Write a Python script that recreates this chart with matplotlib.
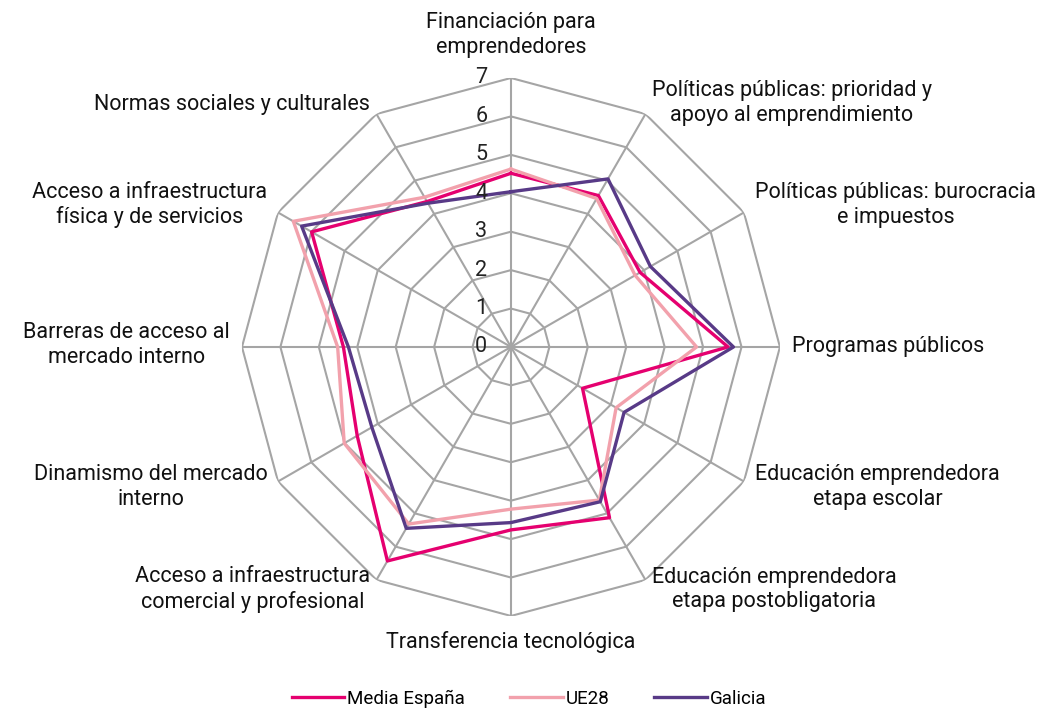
import numpy as np
import matplotlib.pyplot as plt

plt.rcParams['font.family'] = ['Roboto', 'DejaVu Sans']

categorias = [
    'Financiación para\nemprendedores',
    'Políticas públicas: prioridad y\napoyo al emprendimiento',
    'Políticas públicas: burocracia\ne impuestos',
    'Programas públicos',
    'Educación emprendedora\netapa escolar',
    'Educación emprendedora\netapa postobligatoria',
    'Transferencia tecnológica',
    'Acceso a infraestructura\ncomercial y profesional',
    'Dinamismo del mercado\ninterno',
    'Barreras de acceso al\nmercado interno',
    'Acceso a infraestructura\nfísica y de servicios',
    'Normas sociales y culturales',
]
media_espana = [4.52, 4.55, 3.88, 5.65, 2.15, 5.13, 4.76, 6.43, 4.62, 4.36, 5.99, 4.37]
ue28 = [4.63, 4.46, 3.73, 4.83, 3.16, 4.60, 4.22, 5.32, 5.01, 4.51, 6.54, 4.50]
galicia = [4.04, 5.05, 4.19, 5.79, 3.40, 4.65, 4.57, 5.45, 4.18, 4.23, 6.29, 4.32]
ticks = [0, 1, 2, 3, 4, 5, 6, 7]

series = [('Media España', media_espana, '#E5006F'),
          ('UE28', ue28, '#F2A1AC'),
          ('Galicia', galicia, '#583A87')]

n = len(categorias)
ang = np.arange(n) * 2 * np.pi / n
ang_c = np.append(ang, ang[0])

fs = 15.5

fig = plt.figure(figsize=(10.58, 7.16), dpi=100)
ax = fig.add_axes([0.2287, 0.1397, 0.5085, 0.7514], projection='polar')
ax.set_theta_zero_location('N')
ax.set_theta_direction(-1)
ax.set_ylim(0, 7)
ax.grid(False)
ax.set_xticks([])
ax.set_yticks([])
ax.spines['polar'].set_visible(False)

grid_c = '#A5A5A5'
# anillos poligonales
for t in ticks[1:]:
    ax.plot(ang_c, [t] * (n + 1), color=grid_c, lw=1.5, zorder=1)
# radios
for a in ang:
    ax.plot([a, a], [0, 7], color=grid_c, lw=1.5, zorder=1)

for nombre, vals, col in series:
    ax.plot(ang_c, vals + vals[:1], color=col, lw=2.4, label=nombre, zorder=3)

# etiquetas del eje radial
for t in ticks:
    ax.annotate(str(t), (0, t), xytext=(-17, 0), textcoords='offset points',
                ha='right', va='center', fontsize=fs, color='#222222', zorder=4)

# etiquetas de categorias: (ha, dx, dy) en puntos
pos = [('center', 0, 31), ('left', 4.7, 8), ('left', 8, 5.4), ('left', 8.6, 0),
       ('left', 8, -4), ('left', 4.7, -7), ('center', 0, -18.7), ('right', -4.7, -7),
       ('right', -7.2, -4), ('right', -8.6, 1.4), ('right', -8, 5.4), ('right', -4.7, 7)]
for a, lab, (ha, dx, dy) in zip(ang, categorias, pos):
    ax.annotate(lab, (a, 7), xytext=(dx, dy), textcoords='offset points',
                ha=ha, va='center', multialignment='center', fontsize=fs,
                color='#111111', linespacing=1.2, annotation_clip=False)

fig.legend(loc='lower center', ncol=3, frameon=False, fontsize=13.5,
           bbox_to_anchor=(0.5, -0.012), handlelength=2.8, handletextpad=0.15,
           columnspacing=2.4)

fig.savefig('out.png', dpi=100)
